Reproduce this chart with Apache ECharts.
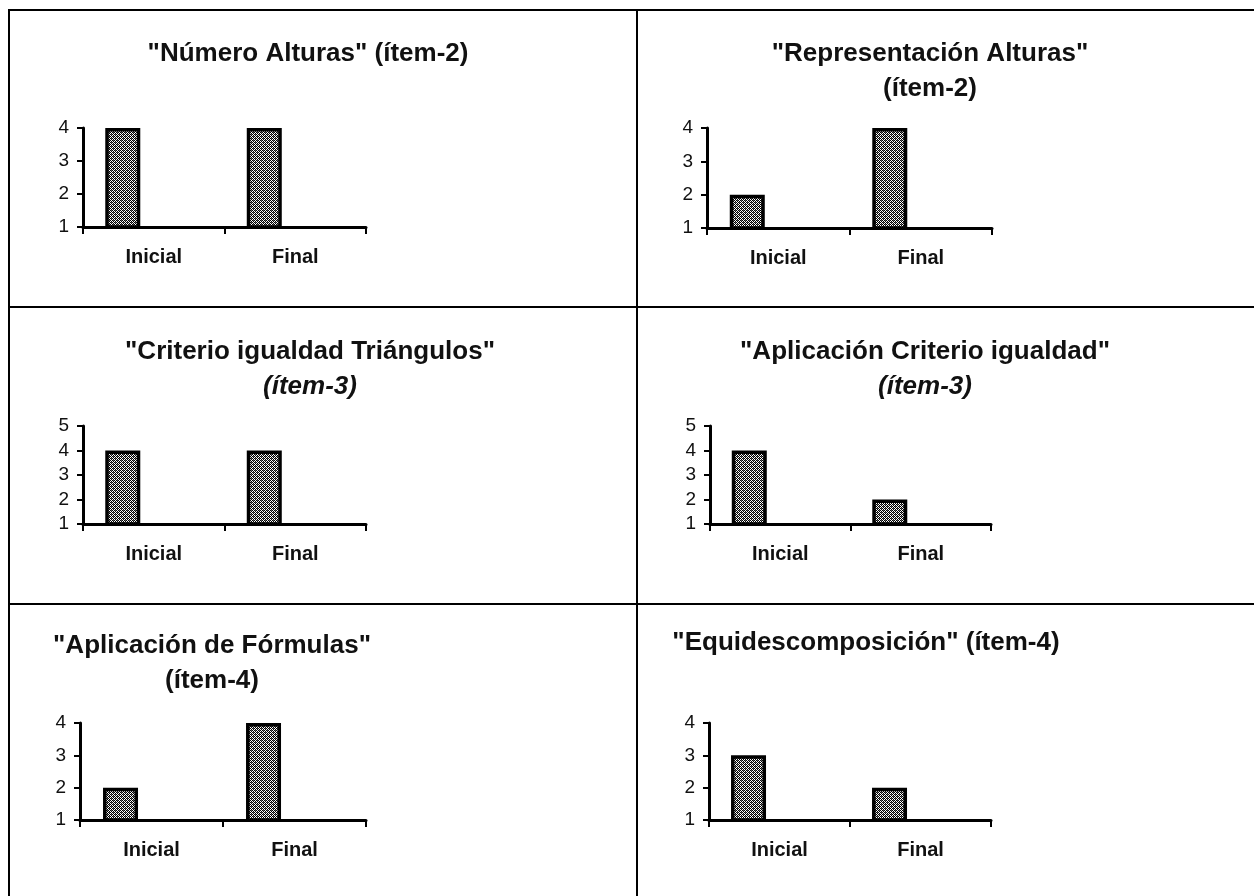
<!DOCTYPE html>
<html><head><meta charset="utf-8">
<script src="https://cdn.jsdelivr.net/npm/echarts@6/dist/echarts.min.js"></script>
<style>html,body{margin:0;padding:0;background:#fff}#c{width:1254px;height:896px}</style>
</head><body><div id="c"></div>
<script>
// ---- data ----
const categories = ['Inicial', 'Final'];
const titleMain = [
  '"Número Alturas" (ítem-2)',
  '"Representación Alturas"',
  '"Criterio igualdad Triángulos"',
  '"Aplicación Criterio igualdad"',
  '"Aplicación de Fórmulas"',
  '"Equidescomposición" (ítem-4)'
];
const titleSub = ['', '(ítem-2)', '(ítem-3)', '(ítem-3)', '(ítem-4)', ''];
const subItalic = [false, false, true, true, false, false];
const numeroAlturas = [4, 4];
const representacionAlturas = [2, 4];
const criterioIgualdad = [4, 4];
const aplicacionCriterio = [4, 2];
const aplicacionFormulas = [2, 4];
const equidescomposicion = [3, 2];
const seriesValues = [numeroAlturas, representacionAlturas, criterioIgualdad, aplicacionCriterio, aplicacionFormulas, equidescomposicion];
const yMin = [1, 1, 1, 1, 1, 1];
const yMax = [4, 4, 5, 5, 4, 4];

// ---- layout ----
const grids = [
  {left: 83, top: 128, width: 283, height: 99},
  {left: 707, top: 128, width: 285, height: 100},
  {left: 83, top: 426, width: 283, height: 98},
  {left: 710, top: 426, width: 281, height: 98},
  {left: 80, top: 723, width: 286, height: 97},
  {left: 709, top: 723, width: 282, height: 97}
];
// centre of first title line
const titlePos = [
  {x: 308, y: 54}, {x: 930, y: 54}, {x: 310, y: 352},
  {x: 925, y: 352}, {x: 212, y: 646}, {x: 866, y: 643}
];
const LH = 35;
const TFS = 26;
const FF = 'Liberation Sans, Arial, sans-serif';

// pattern
const pc = document.createElement('canvas');
pc.width = 4; pc.height = 4;
const pctx = pc.getContext('2d');
pctx.fillStyle = '#fff'; pctx.fillRect(0, 0, 4, 4);
pctx.fillStyle = '#000';
for (let y = 0; y < 4; y++) for (let x = 0; x < 4; x++) if ((x + y) % 2 === 0) pctx.fillRect(x, y, 1, 1);
pctx.fillStyle = '#666';
pctx.fillRect(1, 0, 1, 1); pctx.fillRect(3, 2, 1, 1);

const chart = echarts.init(document.getElementById('c'), null, {renderer: 'canvas'});
const titles = [], xAxes = [], yAxes = [], series = [];
for (let i = 0; i < 6; i++) {
  const sub = titleSub[i];
  const text = sub ? titleMain[i] + '\n{' + (subItalic[i] ? 'it' : 'n') + '|' + sub + '}' : titleMain[i];
  titles.push({
    text: text,
    left: titlePos[i].x, top: titlePos[i].y - LH / 2,
    textAlign: 'center', padding: 0,
    textStyle: {
      fontFamily: FF, fontWeight: 'bold', fontSize: TFS,
      color: '#111', lineHeight: LH,
      rich: {
        it: {fontFamily: FF, fontWeight: 'bold', fontStyle: 'italic', fontSize: TFS, lineHeight: LH, color: '#111'},
        n: {fontFamily: FF, fontWeight: 'bold', fontSize: TFS, lineHeight: LH, color: '#111'}
      }
    }
  });
  xAxes.push({
    type: 'category', gridIndex: i, data: categories, boundaryGap: true,
    axisLine: {lineStyle: {color: '#000', width: 3}},
    axisTick: {show: true, length: 7, lineStyle: {color: '#000', width: 2}},
    axisLabel: {margin: 20, color: '#111', fontFamily: FF, fontWeight: 'bold', fontSize: 20},
    splitLine: {show: false}
  });
  yAxes.push({
    type: 'value', gridIndex: i, min: yMin[i], max: yMax[i], interval: 1,
    axisLine: {show: true, lineStyle: {color: '#000', width: 3}},
    axisTick: {show: true, length: 6, lineStyle: {color: '#000', width: 2}},
    axisLabel: {margin: 14, color: '#111', fontFamily: FF, fontSize: 19},
    splitLine: {show: false}
  });
  series.push({
    type: 'bar', xAxisIndex: i, yAxisIndex: i, data: seriesValues[i],
    barWidth: 35, barGap: '77%',
    itemStyle: {color: {image: pc, repeat: 'repeat'}, borderColor: '#000', borderWidth: 3.5},
    silent: true, animation: false
  });
  series.push({
    type: 'bar', xAxisIndex: i, yAxisIndex: i, data: [],
    barWidth: 35, barGap: '77%', silent: true, animation: false
  });
}

const L = (x1, y1, x2, y2) => ({type: 'line', shape: {x1, y1, x2, y2}, style: {stroke: '#000', lineWidth: 2}, silent: true});

chart.setOption({
  animation: false,
  backgroundColor: '#fff',
  title: titles,
  grid: grids.map(g => Object.assign({containLabel: false}, g)),
  xAxis: xAxes,
  yAxis: yAxes,
  series: series,
  graphic: [
    L(8, 10, 1254, 10),
    L(9, 10, 9, 896),
    L(637, 10, 637, 896),
    L(8, 307, 1254, 307),
    L(8, 604, 1254, 604)
  ]
});
</script>
</body></html>
